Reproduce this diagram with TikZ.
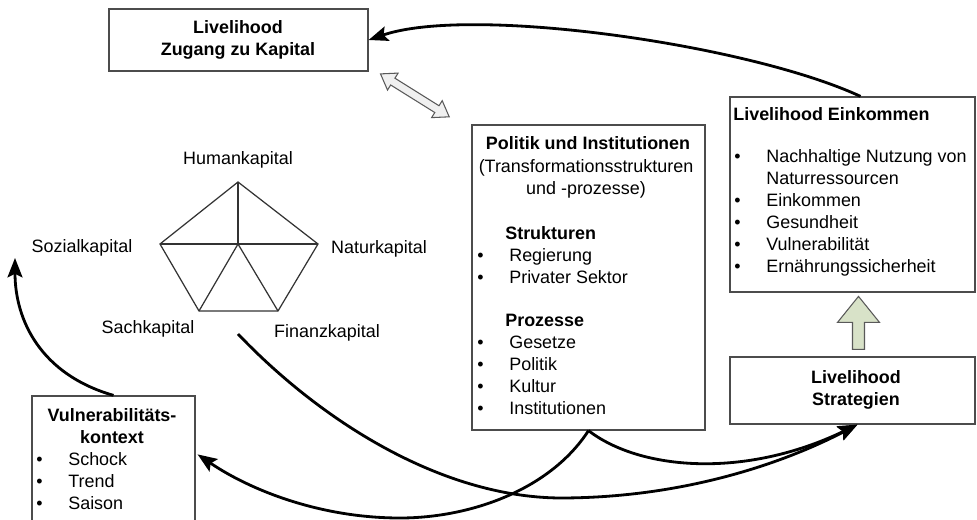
\documentclass[tikz,border=0pt]{standalone}
\usepackage{fontspec}
\setmainfont{Liberation Sans}
\usetikzlibrary{arrows.meta,calc,fit,positioning}

\newcommand{\fs}{\fontsize{10.2}{12.5}\selectfont}
\newcommand{\bitem}[1]{\makebox[0.64cm][l]{\textbullet}#1}

\begin{document}
\begin{tikzpicture}[x=0.02cm,y=-0.02cm,
  every node/.style={inner sep=0pt},
  txt/.style={font=\fs,align=center},
  bld/.style={font=\fs\bfseries,align=center},
  lst/.style={font=\fs,align=left,anchor=west},
  box/.style={draw=black!70,line width=0.7pt},
  conn/.style={line width=1.6pt,-{Stealth[length=11pt,width=8.5pt,inset=2pt]}},
  hollow/.style={draw=black!65,line width=0.6pt,line join=miter}]
	\useasboundingbox (0,0) rectangle (977,520);
	\fill[white] (0,0) rectangle (977,520);
	\clip (0,0) rectangle (977,520);

	% boxes
	\node[box,fit={(109,9) (368,71)}] (topbox) {};
	\node[box,fit={(472,125) (705,430)}] (politik) {};
	\node[box,fit={(730,97) (975,292)}] (eink) {};
	\node[box,fit={(730,357) (975,424)}] (strat) {};
	\node[box,fit={(32,396) (195,540)}] (vuln) {};

	\node[bld] at (238,40) {Livelihood\\Zugang zu Kapital};
	\node[bld] at (856,390) {Livelihood\\Strategien};
	\node[bld] at (112,426) {Vulnerabilitäts-\\kontext};
	\node[lst] at (36,481) {\bitem{Schock}\\\bitem{Trend}\\\bitem{Saison}};

	\node[bld] at (588,143) {Politik und Institutionen};
	\node[txt] at (586,179) {(Transformationsstrukturen\\und -prozesse)};
	\node[bld,anchor=west] at (505,233) {Strukturen};
	\node[lst] at (477,266) {\bitem{Regierung}\\\bitem{Privater Sektor}};
	\node[bld,anchor=west] at (505,320) {Prozesse};
	\node[lst] at (477,375) {\bitem{Gesetze}\\\bitem{Politik}\\\bitem{Kultur}\\\bitem{Institutionen}};

	\node[bld,anchor=west] at (733,114) {Livelihood Einkommen};
	\node[lst] at (734,213) {\bitem{Nachhaltige Nutzung von}\\\hspace*{0.64cm}Naturressourcen\\\bitem{Einkommen}\\\bitem{Gesundheit}\\\bitem{Vulnerabilität}\\\bitem{Ernährungssicherheit}};

	% pentagon of capitals
	\coordinate (ptop) at (238,182);
	\coordinate (pright) at (318,244);
	\coordinate (pbr) at (278,311);
	\coordinate (pbl) at (199,311);
	\coordinate (pleft) at (160,244);
	\coordinate (pmid) at (238,244);
	\draw[black!80,line width=0.7pt] (ptop) -- (pright) -- (pbr) -- (pbl) -- (pleft) -- cycle;
	\foreach \v in {ptop,pright,pbr,pbl,pleft}
		\draw[black!80,line width=0.7pt] (pmid) -- (\v);

	\node[txt] (human) at (238,160) {Humankapital};
	\node[txt] (sozial) at (82,248) {Sozialkapital};
	\node[txt] (natur) at (379,249) {Naturkapital};
	\node[txt] (sach) at (148,329) {Sachkapital};
	\node[txt] (finanz) at (327,333) {Finanzkapital};

	% hollow arrows
	\begin{scope}[shift={($(topbox.south east)!0.45!(politik.north west)$)},rotate=-32]
		\draw[hollow,fill=black!6] (-40.5,0) -- (-26,-10) -- (-26,-4) -- (26,-4) -- (26,-10) -- (40.5,0)
			-- (26,10) -- (26,4) -- (-26,4) -- (-26,10) -- cycle;
	\end{scope}
	\begin{scope}[shift={($(strat.north)+(6,-7)$)}]
		\draw[hollow,fill={rgb,255:red,216;green,226;blue,200}] (-6,0) -- (-6,-27) -- (-21,-27) -- (0,-53)
			-- (21,-27) -- (6,-27) -- (6,0) -- cycle;
	\end{scope}

	% connectors
	\coordinate (soztip) at (15,258);
	\coordinate (sachout) at (238,334);
	\draw[conn] ($(eink.north)+(8,0)$) .. controls +(-112,-52) and +(102,-35) .. (topbox.east);
	\draw[conn] (vuln.north) .. controls +(-73,-21) and +(0,62) .. (soztip);
	\draw[conn] (sachout) .. controls (320,420) and (440,497) .. (560,498)
		.. controls (680,498) and (780,465) .. ($(strat.south)+(5,0)$);
	\draw[conn] (politik.south) .. controls +(52,40) and +(-112,54) .. ($(strat.south)+(5,0)$);
	\draw[conn] (politik.south) .. controls (550,490) and (470,518) .. (400,518)
		.. controls (320,518) and (250,490) .. ($(vuln.north east)+(2,59)$);
\end{tikzpicture}
\end{document}
